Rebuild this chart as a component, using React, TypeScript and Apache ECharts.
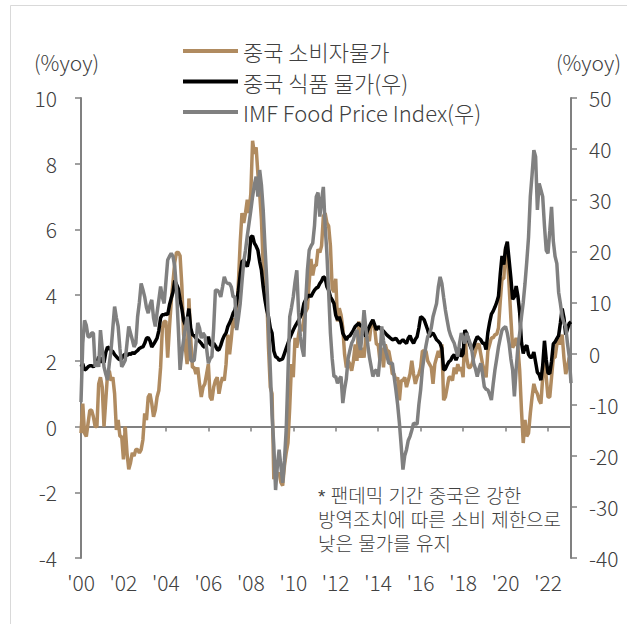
import React, { useEffect, useRef } from "react";
import * as echarts from "echarts";

// ---- data (monthly, Jan 2000 - Feb 2023) ----
const startYear = 2000;

// 중국 소비자물가 (left axis, %yoy)
const cpiChina: (number | null)[] = [
  -0.2, 0.7, -0.2, -0.3, 0.1, 0.5, 0.5, 0.3, 0.0, 0.0, 1.3, 1.5,
  1.2, 0.0, 0.8, 1.6, 1.7, 1.4, 1.5, 1.0, -0.1, 0.2, -0.3, -0.3,
  -1.0, 0.0, -0.8, -1.3, -1.1, -0.8, -0.9, -0.7, -0.7, -0.8, -0.7, -0.4,
  0.4, 0.2, 0.9, 1.0, 0.7, 0.3, 0.5, 0.9, 1.1, 1.8, 3.0, 3.2,
  3.2, 2.1, 3.0, 3.8, 4.4, 5.0, 5.3, 5.3, 5.2, 4.3, 2.8, 2.4,
  1.9, 3.9, 2.7, 1.8, 1.8, 1.6, 1.8, 1.3, 0.9, 1.2, 1.3, 1.6,
  1.9, 0.9, 0.8, 1.2, 1.4, 1.5, 1.0, 1.3, 1.5, 1.4, 1.9, 2.8,
  2.2, 2.7, 3.3, 3.0, 3.4, 4.4, 5.6, 6.5, 6.2, 6.5, 6.9, 6.5,
  7.1, 8.7, 8.3, 8.5, 7.7, 7.1, 6.3, 4.9, 4.6, 4.0, 2.4, 1.2,
  1.0, -1.6, -1.2, -1.5, -1.4, -1.7, -1.8, -1.2, -0.8, -0.5, 0.6, 1.9,
  1.5, 2.7, 2.4, 2.8, 3.1, 2.9, 3.3, 3.5, 3.6, 4.4, 5.1, 4.6,
  4.9, 4.9, 5.4, 5.3, 5.5, 6.4, 6.5, 6.2, 6.1, 5.5, 4.2, 4.1,
  4.5, 3.2, 3.6, 3.4, 3.0, 2.2, 1.8, 2.0, 1.9, 1.7, 2.0, 2.5,
  2.0, 3.2, 2.1, 2.4, 2.1, 2.7, 2.7, 2.6, 3.1, 3.2, 3.0, 2.5,
  2.5, 2.0, 2.4, 1.8, 2.5, 2.3, 2.3, 2.0, 1.6, 1.6, 1.4, 1.5,
  0.8, 1.4, 1.4, 1.5, 1.2, 1.4, 1.6, 2.0, 1.6, 1.3, 1.5, 1.6,
  1.8, 2.3, 2.3, 2.3, 2.0, 1.9, 1.8, 1.3, 1.9, 2.1, 2.3, 2.1,
  2.5, 0.8, 0.9, 1.2, 1.5, 1.5, 1.4, 1.8, 1.6, 1.9, 1.7, 1.8,
  1.5, 2.9, 2.1, 1.8, 1.8, 1.9, 2.1, 2.3, 2.5, 2.5, 2.2, 1.9,
  1.7, 1.5, 2.3, 2.5, 2.7, 2.7, 2.8, 2.8, 3.0, 3.8, 4.5, 4.5,
  5.4, 5.2, 4.3, 3.3, 2.4, 2.5, 2.7, 2.4, 1.7, 0.5, -0.5, 0.2,
  -0.3, -0.2, 0.4, 0.9, 1.3, 1.1, 1.0, 0.8, 0.7, 1.5, 2.3, 1.5,
  0.9, 0.9, 1.5, 2.1, 2.1, 2.5, 2.7, 2.5, 2.8, 2.1, 1.6, 1.8,
  2.1, null,
];

// 중국 식품 물가 (right axis, %yoy)
const foodChina: number[] = [
  -2.6, -2.0, -3.2, -3.0, -2.6, -2.4, -2.4, -2.6, -2.2, -1.8, -0.6, -1.8,
  -0.8, -1.8, 0.2, 1.3, 1.0, 0.6, 0.4, -0.2, -0.6, -1.0, -1.2, -1.0,
  -0.4, -0.1, -0.4, 0.0, -0.2, 0.2, 0.0, 0.3, 0.6, 1.0, 1.2, 1.3,
  2.0, 3.0, 3.1, 2.5, 1.3, 1.8, 2.4, 3.0, 4.5, 7.0, 7.6, 7.6,
  7.8, 7.6, 9.5, 10.8, 12.0, 14.3, 13.5, 12.7, 10.5, 8.8, 6.5, 5.6,
  6.5, 8.8, 5.0, 3.7, 3.5, 3.0, 2.6, 2.4, 2.0, 1.5, 1.2, 2.0,
  3.3, 1.8, 1.6, 2.0, 1.5, 0.8, 0.7, 1.6, 2.7, 3.5, 4.0, 5.3,
  6.0, 6.8, 7.9, 8.5, 10.0, 12.4, 15.5, 18.0, 18.3, 17.6, 17.0, 18.5,
  22.8, 23.0, 21.6, 21.0, 20.2, 18.0, 16.3, 13.0, 10.5, 8.5, 7.2, 5.0,
  4.0, 0.5, -0.6, -0.8, -1.3, -1.2, -1.0, 0.0, 1.0, 2.0, 3.0, 3.8,
  4.6, 5.3, 5.9, 6.5, 7.2, 8.0, 9.8, 10.5, 11.1, 11.5, 11.1, 11.8,
  12.4, 12.8, 13.0, 13.7, 14.2, 15.0, 14.8, 13.1, 12.4, 11.1, 10.5, 9.8,
  7.5, 6.6, 7.2, 6.0, 4.0, 3.3, 2.7, 3.3, 3.5, 4.0, 4.6, 5.3,
  5.6, 5.9, 5.5, 5.3, 4.2, 3.3, 4.5, 5.3, 6.0, 6.6, 5.6, 4.6,
  5.3, 5.0, 4.6, 4.4, 4.0, 3.6, 3.3, 3.0, 2.7, 2.8, 3.0, 2.5,
  2.0, 2.4, 2.7, 2.3, 2.0, 3.0, 3.5, 2.6, 2.0, 2.8, 3.3, 5.0,
  7.2, 7.0, 6.6, 5.6, 4.6, 3.3, 3.8, 4.0, 3.4, 2.7, 2.4, 2.0,
  1.0, -3.2, -3.0, -2.2, -1.6, -1.3, -0.6, -0.2, -1.3, -0.4, 1.0, -0.6,
  0.0, 4.6, 4.0, 2.7, 1.5, 0.7, 1.5, 2.5, 3.3, 3.0, 2.7, 2.0,
  2.0, 0.8, 4.1, 6.1, 7.7, 8.3, 9.1, 10.0, 11.2, 15.5, 19.1, 17.4,
  20.6, 21.9, 18.3, 14.8, 10.6, 11.1, 13.2, 11.2, 7.9, 2.2, 0.0, 1.2,
  1.6, -0.2, -0.7, -0.7, 0.3, -1.7, -3.7, -4.1, -5.2, -2.4, 2.5, -1.2,
  -3.8, -3.9, -1.5, 1.9, 2.3, 2.9, 3.5, 6.0, 8.8, 7.0, 3.7, 4.8,
  5.9, 6.2,
];

// IMF Food Price Index (right axis, %yoy)
const imfFood: number[] = [
  -9.5, 2.0, 6.5, 5.5, 3.3, 3.3, 4.0, 4.0, -2.6, -1.5, -2.6, 4.6,
  1.0, -2.6, -4.0, -5.2, -2.0, 0.7, 5.0, 9.2, 7.0, 5.3, 1.0, -2.6,
  -2.0, -1.3, 2.0, 5.3, 4.0, 2.7, 1.3, 2.0, 7.2, 10.0, 13.7, 12.5,
  11.1, 9.0, 7.9, 9.5, 10.5, 7.0, 5.3, 8.0, 10.5, 13.1, 11.0, 9.8,
  14.0, 18.3, 19.0, 19.6, 19.0, 17.0, 12.4, 5.0, -3.2, 0.0, 2.7, 5.0,
  7.2, 4.0, -1.3, -1.5, -1.3, 2.0, 6.0, 5.0, 3.0, 4.0, 3.5, 1.0,
  -1.9, -1.0, -0.6, 5.0, 12.4, 12.4, 12.0, 11.1, 13.0, 15.0, 14.0, 13.7,
  13.7, 13.0, 11.1, 11.1, 4.6, 7.0, 9.8, 14.0, 18.0, 20.2, 23.0, 25.5,
  28.0, 30.7, 33.0, 34.6, 30.7, 35.9, 33.0, 28.1, 21.0, 14.4, 6.0, -3.0,
  -12.0, -18.0, -26.7, -22.0, -18.8, -22.0, -25.3, -21.0, -14.9, -4.0, 7.2, 9.0,
  11.1, 14.0, 16.3, 8.0, 3.3, 1.0, -0.6, 10.0, 16.3, 20.2, 21.0, 21.6,
  25.0, 30.7, 31.5, 26.8, 30.0, 32.6, 25.0, 19.6, 12.0, 4.0, -1.0, -4.5,
  -4.5, -5.8, -5.0, -4.5, -9.7, -7.0, -4.9, -1.0, 0.6, 2.0, 2.7, 4.0,
  4.6, 2.5, 0.7, 4.0, 8.5, 5.0, 2.0, -0.6, -2.5, -4.5, -3.5, -3.2,
  -4.5, -1.0, 5.3, 2.5, 0.7, -0.5, -1.9, -1.9, -1.9, -4.5, -7.1, -10.0,
  -13.6, -18.0, -22.7, -20.0, -18.8, -17.0, -16.2, -15.0, -13.6, -13.8, -13.8, -10.0,
  -7.1, -3.0, -0.6, 1.5, 3.3, 3.9, 5.0, 7.2, 8.5, 9.8, 13.0, 15.0,
  13.7, 11.0, 8.5, 6.5, 4.6, 3.5, 2.7, 2.0, 0.7, -0.6, 2.0, 4.0,
  3.0, 2.0, 4.0, 3.0, 2.0, 0.5, -1.9, -3.0, -4.5, -3.0, -1.9, -4.0,
  -6.5, -7.0, -7.1, -8.0, -9.1, -6.0, -3.2, -1.0, 1.3, 3.0, 4.6, 5.0,
  5.3, 4.0, 2.0, -1.0, -3.2, -8.4, -3.0, 1.3, 4.0, 7.2, 10.0, 13.7,
  18.0, 22.8, 30.7, 35.0, 39.8, 38.5, 28.1, 33.3, 32.0, 30.7, 25.0, 20.2,
  19.6, 24.0, 28.7, 22.0, 19.0, 17.6, 12.0, 9.8, 7.2, 6.0, 5.3, 2.0,
  -0.6, -5.8,
];

const seriesNames = ["중국 소비자물가", "중국 식품 물가(우)", "IMF Food Price Index(우)"];
const seriesColors = ["#B08B60", "#000000", "#808080"];
const yearLabels = ["'00", "'02", "'04", "'06", "'08", "'10", "'12", "'14", "'16", "'18", "'20", "'22"];
const unitLabel = "(%yoy)";
const noteLines = ["* 팬데믹 기간 중국은 강한", "방역조치에 따른 소비 제한으로", "낮은 물가를 유지"];

const months: string[] = [];
for (let i = 0; i < foodChina.length; i++) {
  const y = startYear + Math.floor(i / 12);
  const m = (i % 12) + 1;
  months.push(`${y}-${m < 10 ? "0" + m : m}`);
}

const FONT = "'Noto Sans CJK KR', 'Noto Sans', sans-serif";
const NOTE_FONT = "'Liberation Sans', 'Noto Sans CJK KR', sans-serif";
const TXT = "#404040";
const AX = "#808080";

export default function App() {
  const ref = useRef<HTMLDivElement>(null);
  useEffect(() => {
    if (!ref.current) return;
    const chart = echarts.init(ref.current, undefined, { renderer: "svg" });
    const seriesData = [cpiChina, foodChina, imfFood];
    const option: any = {
      animation: false,
      backgroundColor: "#ffffff",
      textStyle: { fontFamily: FONT, fontWeight: 300 },
      grid: { left: 81, right: 56, top: 98, bottom: 66 },
      legend: {
        orient: "vertical",
        left: 178,
        top: 35,
        icon: "rect",
        itemWidth: 55,
        itemHeight: 4,
        itemGap: 8.5,
        selectedMode: false,
        textStyle: { fontSize: 22, color: TXT, fontFamily: FONT, fontWeight: 300 },
        data: seriesNames,
      },
      xAxis: [
        {
          type: "category",
          data: months,
          boundaryGap: false,
          position: "bottom",
          axisLine: { show: false, onZero: false },
          axisTick: { show: false },
          splitLine: { show: false },
          axisLabel: {
            interval: 23,
            margin: 13,
            fontSize: 21,
            color: TXT,
            fontFamily: FONT,
            fontWeight: 300,
            formatter: (_v: string, idx: number) => (idx % 24 === 0 ? yearLabels[idx / 24] ?? "" : ""),
          },
        },
        {
          type: "category",
          data: months,
          boundaryGap: false,
          position: "top",
          axisLine: { show: true, onZero: true, onZeroAxisIndex: 0, lineStyle: { color: AX, width: 2 } },
          axisTick: { show: true, inside: true, length: 5, interval: 23, lineStyle: { color: AX, width: 1.5 } },
          axisLabel: { show: false },
          splitLine: { show: false },
        },
      ],
      yAxis: [
        {
          type: "value",
          position: "left",
          min: -4,
          max: 10,
          interval: 2,
          axisLine: { show: true, onZero: false, lineStyle: { color: AX, width: 2 } },
          axisTick: { show: true, length: 6, lineStyle: { color: AX, width: 1.5 } },
          axisLabel: { fontSize: 21, color: TXT, margin: 24, fontFamily: FONT, fontWeight: 300 },
          splitLine: { show: false },
        },
        {
          type: "value",
          position: "right",
          min: -40,
          max: 50,
          interval: 10,
          axisLine: { show: true, onZero: false, lineStyle: { color: AX, width: 2 } },
          axisTick: { show: true, length: 6, lineStyle: { color: AX, width: 1.5 } },
          axisLabel: { fontSize: 21, color: TXT, margin: 18, fontFamily: FONT, fontWeight: 300 },
          splitLine: { show: false },
        },
      ],
      series: seriesNames.map((name, i) => ({
        name,
        type: "line",
        xAxisIndex: 0,
        yAxisIndex: i === 0 ? 0 : 1,
        data: seriesData[i],
        showSymbol: false,
        symbol: "none",
        connectNulls: false,
        color: seriesColors[i],
        lineStyle: { color: seriesColors[i], width: 3.5 },
        z: 2 + i,
      })),
      graphic: [
        {
          type: "rect",
          silent: true,
          z: -10,
          shape: { x: 10.5, y: 5.5, width: 800, height: 800 },
          style: { fill: "none", stroke: "#d9d9d9", lineWidth: 1 },
        },
        {
          type: "text",
          x: 34,
          y: 62,
          style: { text: unitLabel, fontSize: 21, fill: TXT, fontFamily: FONT, fontWeight: 300, align: "left", verticalAlign: "middle" },
        },
        {
          type: "text",
          x: 621,
          y: 62,
          style: { text: unitLabel, fontSize: 21, fill: TXT, fontFamily: FONT, fontWeight: 300, align: "right", verticalAlign: "middle" },
        },
        ...noteLines.map((line, i) => ({
          type: "text",
          x: 318,
          y: 496 + i * 24,
          style: { text: line, fontSize: 19, lineHeight: 20, fill: TXT, fontFamily: NOTE_FONT, fontWeight: 300, align: "left", verticalAlign: "middle" },
        })),
      ],
    };
    chart.setOption(option);
    return () => chart.dispose();
  }, []);
  return (
    <div
      ref={ref}
      style={{ position: "fixed", left: 0, top: 0, width: 627, height: 624, background: "#fff" }}
    />
  );
}
